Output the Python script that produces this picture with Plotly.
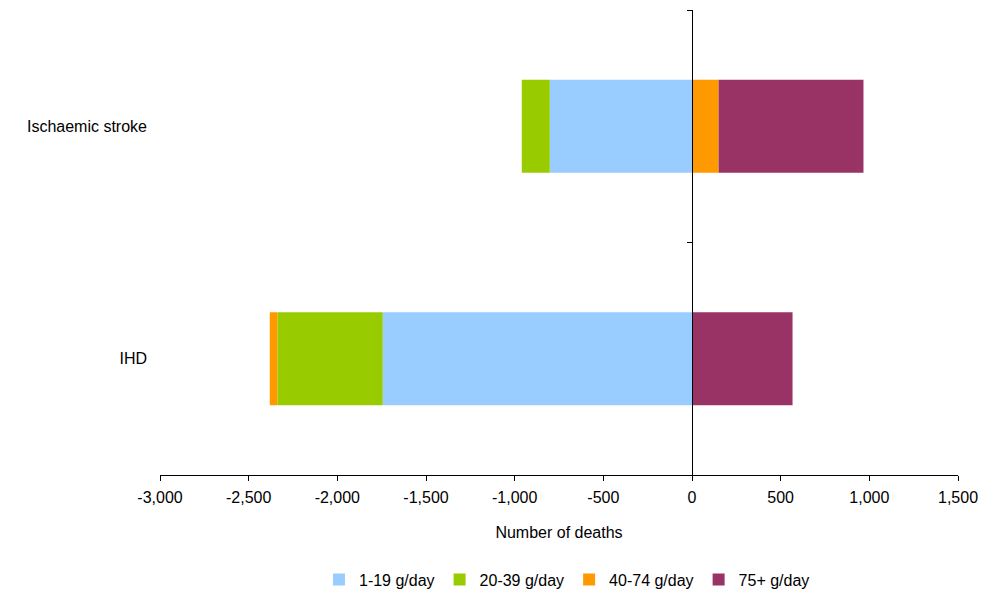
import plotly.graph_objects as go

categories = ["IHD", "Ischaemic stroke"]
cat_pos = [0.5, 1.5]
series_names = ["1-19 g/day", "20-39 g/day", "40-74 g/day", "75+ g/day"]
s_1_19 = [-1744, -802]
s_20_39 = [-594, -158]
s_40_74 = [-43, 150]
s_75plus = [567, 817]
colors = ["#99CCFF", "#99CC00", "#FF9900", "#993366"]
x_ticks = [-3000, -2500, -2000, -1500, -1000, -500, 0, 500, 1000, 1500]
x_tick_text = ["-3,000", "-2,500", "-2,000", "-1,500", "-1,000", "-500", "0", "500", "1,000", "1,500"]

fig = go.Figure()
for name, vals, col in zip(series_names, [s_1_19, s_20_39, s_40_74, s_75plus], colors):
    fig.add_trace(go.Bar(
        y=cat_pos, x=vals, name=name, orientation="h",
        marker=dict(color=col, line=dict(width=0)), width=0.4,
    ))

# invisible trace so the zero-position category axis is drawn
fig.add_trace(go.Scatter(x=[None], y=[None], yaxis="y2", showlegend=False,
                         hoverinfo="skip", mode="markers"))

font = dict(family="Liberation Sans, Arial, sans-serif", size=16, color="#000000")

fig.update_layout(
    barmode="relative",
    width=983, height=595,
    margin=dict(l=160, r=25, t=10, b=120, autoexpand=False),
    plot_bgcolor="white", paper_bgcolor="white",
    font=font,
    xaxis=dict(
        range=[-3000, 1500], tickvals=x_ticks, ticktext=x_tick_text,
        showline=True, linecolor="#000000", linewidth=1,
        ticks="outside", ticklen=5, tickcolor="#000000",
        showgrid=False, zeroline=False, ticklabelstandoff=3,
        automargin=False,
        title=dict(text="Number of deaths", standoff=21, font=font),
    ),
    yaxis=dict(
        range=[0, 2], tickvals=cat_pos, ticktext=categories,
        showline=False, showgrid=False, zeroline=False,
        ticks="", ticklabelstandoff=12, automargin=False,
    ),
    yaxis2=dict(
        overlaying="y", anchor="free", position=3000 / 4500, side="left",
        range=[0, 2], tickvals=[0, 1, 2], showticklabels=False,
        showline=True, linecolor="#000000", linewidth=1,
        ticks="outside", ticklen=5, tickcolor="#000000",
        showgrid=False, zeroline=False, automargin=False,
    ),
    legend=dict(
        orientation="h", x=0.51, xanchor="center", y=-0.225, yanchor="middle",
        font=font, traceorder="normal",
    ),
    bargap=0.6,
)

fig.write_html(
    "out.html",
    config={"displayModeBar": False},
    post_script="document.body.style.margin='0';document.body.style.overflow='hidden';",
)
